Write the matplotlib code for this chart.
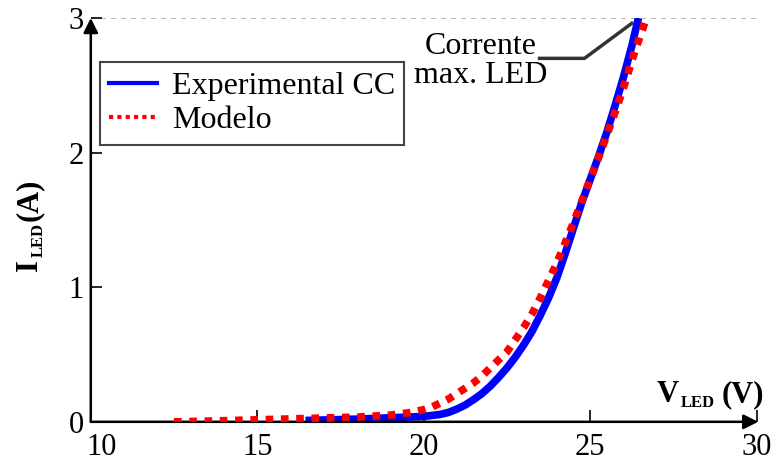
import matplotlib
matplotlib.use("Agg")
from matplotlib import pyplot as plt
from matplotlib.lines import Line2D
from matplotlib.transforms import ScaledTranslation

plt.rcParams['font.family'] = ['Liberation Serif', 'DejaVu Serif']

# Experimental CC (blue solid)
v_exp = [16.45, 18, 19, 19.5, 20, 20.5, 20.75, 21, 21.25, 21.5, 21.75, 22, 22.25, 22.5, 22.75,
         23, 23.25, 23.5, 23.75, 24, 24.25, 24.5, 24.75, 25, 25.25, 25.5, 25.75, 26, 26.25, 26.45]
i_exp = [0.01, 0.02, 0.03, 0.035, 0.04, 0.055, 0.07, 0.095, 0.125, 0.165, 0.21, 0.265, 0.33, 0.40, 0.48,
         0.57, 0.67, 0.79, 0.92, 1.07, 1.25, 1.44, 1.63, 1.80, 1.97, 2.15, 2.35, 2.56, 2.79, 3.0]

# Modelo (red dotted)
v_mod = [12.5, 13.5, 15, 16.5, 18, 19, 19.5, 20, 20.25, 20.5, 20.75, 21, 21.25, 21.5, 21.75, 22,
         22.25, 22.5, 22.75, 23, 23.25, 23.5, 23.75, 24, 24.25, 24.5, 24.75, 25, 25.25, 25.5,
         25.75, 26, 26.3, 26.69]
i_mod = [0.0, 0.005, 0.015, 0.025, 0.035, 0.05, 0.065, 0.09, 0.11, 0.14, 0.17, 0.21, 0.25, 0.29, 0.34, 0.40,
         0.46, 0.52, 0.61, 0.70, 0.80, 0.92, 1.05, 1.18, 1.33, 1.48, 1.64, 1.80, 1.96, 2.13,
         2.30, 2.48, 2.72, 3.0]

i_max = 3.0
x_ticks = [10, 15, 20, 25, 30]
y_ticks = [0, 1, 2, 3]

W, H = 776, 461
fig = plt.figure(figsize=(W / 100, H / 100), dpi=100)
ax = fig.add_axes([0.117, 0.085, 0.858, 0.876])

ax.axhline(i_max, color='#aaaaaa', lw=1.2, ls=(0, (3, 3)), zorder=1)
ax.plot(v_exp, i_exp, color='#0000ff', lw=5.5, solid_capstyle='butt', zorder=3)
ax.plot(v_mod, i_mod, color='#ff0000', lw=5.5, ls=(0, (1, 1)), dash_capstyle='butt', zorder=4)

ax.set_xlim(10, 30)
ax.set_ylim(0, 3)
for s in ['top', 'right', 'left', 'bottom']:
    ax.spines[s].set_visible(False)

# axes drawn as arrows
arr = dict(arrowstyle='-|>', lw=1.8, color='k', mutation_scale=22, shrinkA=0, shrinkB=0)
ax.annotate('', xy=(30.05, 0), xytext=(10, 0), annotation_clip=False, arrowprops=arr)
ax.annotate('', xy=(10, 3.0), xytext=(10, 0), annotation_clip=False, arrowprops=arr)

ax.set_xticks(x_ticks)
ax.set_yticks(y_ticks)
ax.tick_params(axis='x', direction='in', length=9, width=1.2, pad=8, labelsize=22)
ax.tick_params(axis='y', direction='in', length=8, width=1.2, pad=5, labelsize=22)
lbl10 = ax.get_xticklabels()[0]
lbl10.set_transform(lbl10.get_transform() + ScaledTranslation(0.11, 0, fig.dpi_scale_trans))

# axis labels with small bold subscripts, placed in pixels
def ftext(px, py, s, size, **kw):
    fig.text(px / W, 1 - py / H, s, fontsize=size, fontweight='bold', **kw)

ftext(657, 402, 'V', 22, ha='left', va='baseline')
ftext(681, 407, 'LED', 12, ha='left', va='baseline')
ftext(722, 402, '(V)', 22, ha='left', va='baseline')

rot = dict(rotation=90, rotation_mode='anchor', ha='left', va='baseline')
ftext(37, 271, 'I', 22, **rot)
ftext(43, 257, 'LED', 12, **rot)
ftext(37, 221, '(A)', 22, **rot)

# annotation for max current
ax.plot([23.48, 24.83, 26.25], [2.70, 2.70, 2.96], color='#333333', lw=2.5, zorder=5)
ax.text(21.7, 2.68, 'Corrente\nmax. LED', fontsize=23, ha='center', va='center', linespacing=1.0)

handles = [Line2D([], [], color='#0000ff', lw=3),
           Line2D([], [], color='#ff0000', lw=3, ls=(0, (1, 1)), dash_capstyle='butt')]
leg = ax.legend(handles, ['Experimental CC', 'Modelo'], loc='upper left',
                bbox_to_anchor=(0.0135, 0.891), borderaxespad=0, fontsize=23,
                fancybox=False, framealpha=1, edgecolor='#444444',
                handlelength=1.5, handletextpad=0.45, labelspacing=0.15,
                borderpad=0.3)
leg.get_frame().set_linewidth(1.5)

fig.savefig('out.png', dpi=100)
